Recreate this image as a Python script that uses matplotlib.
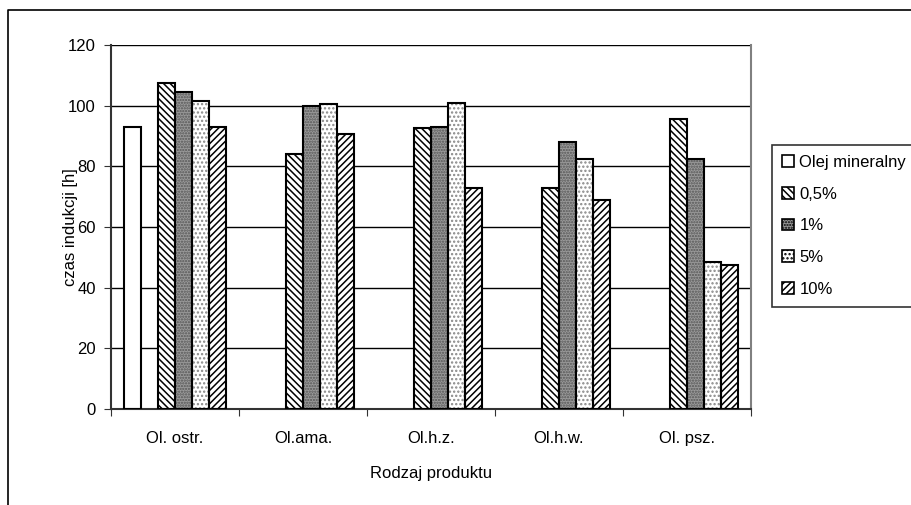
import matplotlib.pyplot as plt
from matplotlib.lines import Line2D
from matplotlib.patches import Patch

plt.rcParams['font.family'] = ['Liberation Sans', 'DejaVu Sans']
plt.rcParams['hatch.linewidth'] = 1.1

# dane: czas indukcji [h]
produkty = ["Ol. ostr.", "Ol.ama.", "Ol.h.z.", "Ol.h.w.", "Ol. psz."]
olej_mineralny = [93.0, None, None, None, None]
stez_05 = [107.5, 84.0, 92.5, 73.0, 95.5]
stez_1 = [104.5, 100.0, 93.0, 88.0, 82.5]
stez_5 = [101.5, 100.5, 101.0, 82.5, 48.5]
stez_10 = [93.0, 90.5, 73.0, 69.0, 47.5]

etykiety = ["Olej mineralny", "0,5%", "1%", "5%", "10%"]
serie = [olej_mineralny, stez_05, stez_1, stez_5, stez_10]
# pozycja w grupie (6 miejsc, drugie puste)
sloty = [0, 2, 3, 4, 5]
style = [
    dict(fc="white", hatch=None, hc="black"),
    dict(fc="white", hatch="\\\\\\\\\\", hc="black"),
    dict(fc="#9a9a9a", hatch="......", hc="#555555"),
    dict(fc="white", hatch="....", hc="#888888"),
    dict(fc="white", hatch="/////", hc="black"),
]

FS = 12
W, H = 912, 505
fig = plt.figure(figsize=(W / 100, H / 100), dpi=100)
ax = fig.add_axes([111 / W, 1 - 409 / H, (751 - 111) / W, (409 - 45) / H])

w = 0.8 / 6
for vals, slot, st in zip(serie, sloty, style):
    for i, v in enumerate(vals):
        if v is None:
            continue
        x = i + 0.1 + slot * w
        # wypelnienie z kreskowaniem, potem czarny kontur
        ax.bar(x, v, width=w, align="edge", color=st["fc"], hatch=st["hatch"],
               edgecolor=st["hc"], linewidth=0, zorder=2)
        ax.bar(x, v, width=w, align="edge", fill=False, edgecolor="black",
               linewidth=1.5, zorder=3)

ax.set_xlim(0, 5)
ax.set_ylim(0, 120)
ax.set_yticks(range(0, 121, 20))
ax.yaxis.grid(True, color="black", linewidth=1.0, zorder=0)
ax.set_axisbelow(True)

ax.set_xticks(range(6))
ax.set_xticklabels([])
ax.set_xticks([i + 0.5 for i in range(5)], minor=True)
ax.set_xticklabels(produkty, minor=True, fontsize=FS)
ax.tick_params(axis="x", which="minor", length=0, pad=16)
ax.tick_params(axis="x", which="major", length=5, direction="out", color="#333333")
ax.tick_params(axis="y", length=5, labelsize=FS, pad=6, color="#333333")

ax.spines["top"].set_visible(False)
ax.spines["right"].set_color("#808080")
ax.spines["right"].set_linewidth(1.5)
for s in ("left", "bottom"):
    ax.spines[s].set_linewidth(1.5)
    ax.spines[s].set_color("#333333")

ax.set_xlabel("Rodzaj produktu", fontsize=FS)
ax.set_ylabel("czas indukcji [h]", fontsize=FS)
ax.xaxis.set_label_coords(0.5, -(466 - 409) / 364)
ax.yaxis.set_label_coords(-(111 - 78) / 640, 0.5)

uchwyty = [Patch(facecolor=st["fc"], hatch=st["hatch"], edgecolor="black",
                 linewidth=1.2) for st in style]
leg = fig.legend(uchwyty, etykiety, loc="upper left",
                 bbox_to_anchor=(772 / W, 1 - 145 / H), fontsize=FS,
                 frameon=True, fancybox=False, handlelength=0.7,
                 handleheight=0.7, handletextpad=0.35, labelspacing=1.0,
                 borderpad=0.6, borderaxespad=0)
leg.get_frame().set_edgecolor("black")
leg.get_frame().set_linewidth(1.2)

# ramka obszaru wykresu
fig.add_artist(Line2D([8 / W, 8 / W, 1.0], [0.0, 1 - 10 / H, 1 - 10 / H],
                      transform=fig.transFigure, color="black", linewidth=1.2))

fig.savefig("out.png", dpi=100)
